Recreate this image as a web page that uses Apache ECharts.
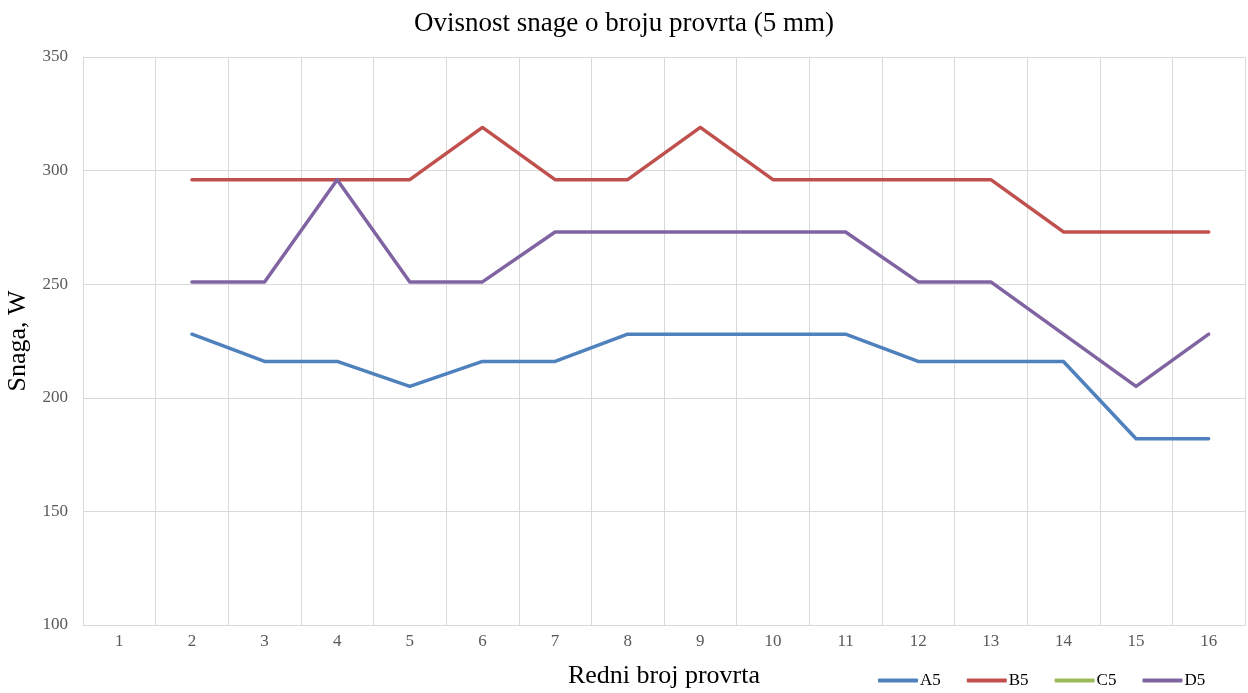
<!DOCTYPE html>
<html>
<head>
<meta charset="utf-8">
<script src="https://cdn.jsdelivr.net/npm/echarts@6/dist/echarts.min.js"></script>
<style>
  html, body { margin: 0; padding: 0; background: #fff; }
  #chart { width: 1248px; height: 693px; }
</style>
</head>
<body>
<div id="chart"></div>
<script>
// podaci ocitani sa slike
var categories = ['1','2','3','4','5','6','7','8','9','10','11','12','13','14','15','16'];
var a5 = [null, 228, 216, 216, 205, 216, 216, 228, 228, 228, 228, 216, 216, 216, 182, 182];
var b5 = [null, 296, 296, 296, 296, 319, 296, 296, 319, 296, 296, 296, 296, 273, 273, 273];
var c5 = [null, null, null, null, null, null, null, null, null, null, null, null, null, null, null, null];
var d5 = [null, 251, 251, 296, 251, 251, 273, 273, 273, 273, 273, 251, 251, 228, 205, 228];

var serif = '"Liberation Serif", "DejaVu Serif", serif';

function line(name, data, color) {
  return {
    name: name,
    type: 'line',
    data: data,
    symbol: 'none',
    connectNulls: false,
    lineStyle: { color: color, width: 3.5, cap: 'round', join: 'round' },
    itemStyle: { color: color }
  };
}

var chart = echarts.init(document.getElementById('chart'));
chart.setOption({
  animation: false,
  title: {
    text: 'Ovisnost snage o broju provrta (5 mm)',
    left: 'center',
    top: 5,
    textStyle: { fontFamily: serif, fontSize: 27, fontWeight: 'normal', color: '#000' }
  },
  grid: { left: 83, right: 3, top: 57, bottom: 68, containLabel: false, outerBoundsMode: 'none' },
  legend: {
    left: 873,
    top: 667,
    itemWidth: 40,
    itemHeight: 4,
    itemGap: 26,
    icon: 'roundRect',
    textStyle: { fontFamily: serif, fontSize: 17, color: '#000', padding: [0, 0, 0, -3] },
    data: ['A5', 'B5', 'C5', 'D5']
  },
  xAxis: {
    type: 'category',
    data: categories,
    boundaryGap: true,
    name: 'Redni broj provrta',
    nameLocation: 'middle',
    nameGap: 38,
    nameTextStyle: { fontFamily: serif, fontSize: 26, color: '#000' },
    axisLine: { lineStyle: { color: '#D9D9D9', width: 1 } },
    axisTick: { show: false },
    axisLabel: { fontFamily: serif, fontSize: 17, color: '#595959', margin: 8 },
    splitLine: { show: true, lineStyle: { color: '#D9D9D9', width: 1 } }
  },
  yAxis: {
    type: 'value',
    min: 100,
    max: 350,
    interval: 50,
    name: 'Snaga, W',
    nameLocation: 'middle',
    nameGap: 50,
    nameTextStyle: { fontFamily: serif, fontSize: 26, color: '#000' },
    axisLine: { show: true, lineStyle: { color: '#D9D9D9', width: 1 } },
    axisTick: { show: false },
    axisLabel: { fontFamily: serif, fontSize: 17, color: '#595959', margin: 15 },
    splitLine: { show: true, lineStyle: { color: '#D9D9D9', width: 1 } }
  },
  series: [
    line('A5', a5, '#4F81BD'),
    line('B5', b5, '#C0504D'),
    line('C5', c5, '#9BBB59'),
    line('D5', d5, '#8064A2')
  ]
});
</script>
</body>
</html>
